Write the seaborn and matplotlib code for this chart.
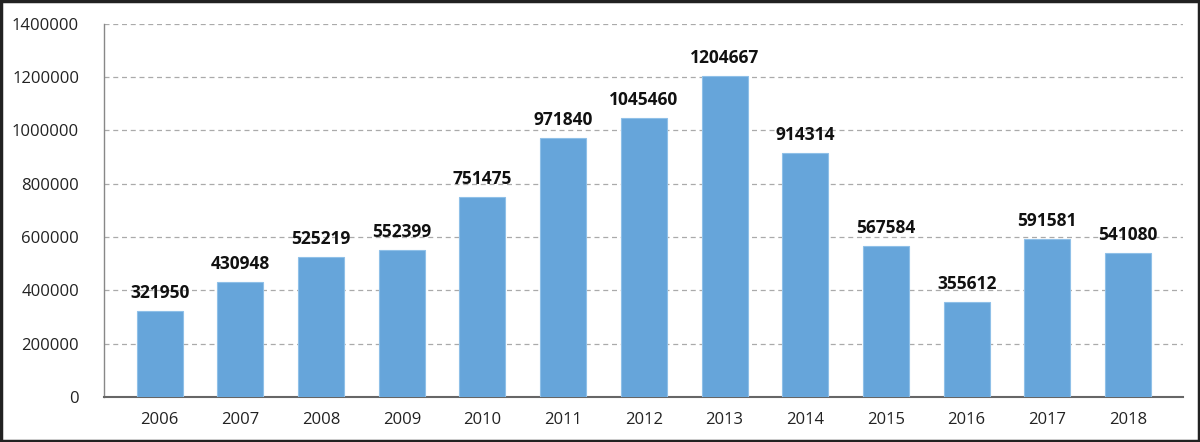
import matplotlib
matplotlib.use("Agg")
import matplotlib.pyplot as plt
import seaborn as sns
import pandas as pd

years = ["2006", "2007", "2008", "2009", "2010", "2011", "2012",
         "2013", "2014", "2015", "2016", "2017", "2018"]
values = [321950, 430948, 525219, 552399, 751475, 971840, 1045460,
          1204667, 914314, 567584, 355612, 591581, 541080]
y_ticks = [0, 200000, 400000, 600000, 800000, 1000000, 1200000, 1400000]

sns.set_theme(style="white")
plt.rcParams['font.family'] = ['Open Sans', 'DejaVu Sans']

df = pd.DataFrame({'Year': years, 'Value': values})

fig = plt.figure(figsize=(12, 4.42), dpi=100)
ax = fig.add_axes([0.0867, 0.102, 0.899, 0.844])

sns.barplot(data=df, x='Year', y='Value', color='#66a5da', width=0.57,
            saturation=1, edgecolor='#8fc0e8', linewidth=0.8, ax=ax, zorder=3)

for i, v in enumerate(values):
    ax.text(i, v + 34000, str(v), ha='center', va='bottom',
            fontsize=12.5, fontweight='bold', color='#111111')

ax.set_ylim(0, 1400000)
ax.set_xlim(-0.69, 12.68)
ax.set_yticks(y_ticks)
ax.set_yticklabels([str(t) for t in y_ticks])
ax.yaxis.grid(True, linestyle=(0, (4, 3)), color='#aaaaaa', linewidth=0.9)
ax.set_axisbelow(True)
ax.set_xlabel('')
ax.set_ylabel('')
ax.tick_params(axis='both', length=0, labelsize=12, colors='#222222')
ax.tick_params(axis='x', pad=11)
ax.tick_params(axis='y', pad=18)

for s in ['top', 'right']:
    ax.spines[s].set_visible(False)
ax.spines['left'].set_color('#888888')
ax.spines['left'].set_linewidth(1)
ax.spines['bottom'].set_color('#666666')
ax.spines['bottom'].set_linewidth(1.5)

fig.patches.append(plt.Rectangle((0.001, 0.002), 0.998, 0.996, transform=fig.transFigure,
                                 fill=False, edgecolor='#222222', linewidth=2.5))

fig.savefig('out.png', dpi=100)
